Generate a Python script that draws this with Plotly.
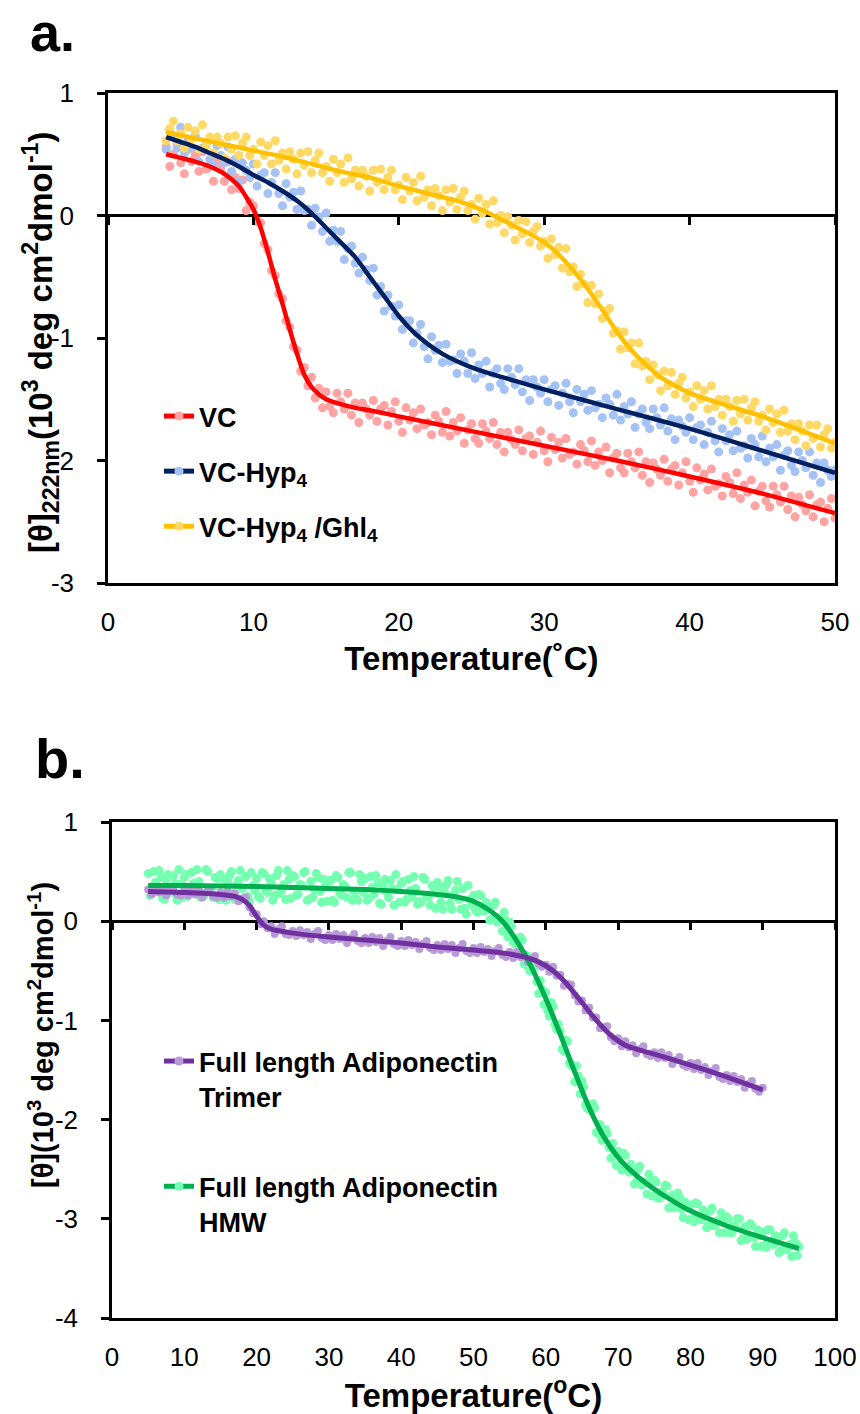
import plotly.graph_objects as go

# ---------------- DATA ----------------
# Panel a: temperature scan (deg C)
T_A = [4, 4.25, 4.5, 4.75, 5, 5.25, 5.5, 5.75, 6, 6.25, 6.5, 6.75, 7, 7.25, 7.5, 7.75,
       8, 8.25, 8.5, 8.75, 9, 9.25, 9.5, 9.75, 10, 10.25, 10.5, 10.75, 11, 11.25, 11.5, 11.75,
       12, 12.25, 12.5, 12.75, 13, 13.25, 13.5, 13.75, 14, 14.25, 14.5, 14.75, 15, 15.25, 15.5, 15.75,
       16, 16.25, 16.5, 16.75, 17, 17.25, 17.5, 17.75, 18, 18.25, 18.5, 18.75, 19, 19.25, 19.5, 19.75,
       20, 20.25, 20.5, 20.75, 21, 21.25, 21.5, 21.75, 22, 22.25, 22.5, 22.75, 23, 23.25, 23.5, 23.75,
       24, 24.25, 24.5, 24.75, 25, 25.25, 25.5, 25.75, 26, 26.25, 26.5, 26.75, 27, 27.25, 27.5, 27.75,
       28, 28.25, 28.5, 28.75, 29, 29.25, 29.5, 29.75, 30, 30.25, 30.5, 30.75, 31, 31.25, 31.5, 31.75,
       32, 32.25, 32.5, 32.75, 33, 33.25, 33.5, 33.75, 34, 34.25, 34.5, 34.75, 35, 35.25, 35.5, 35.75,
       36, 36.25, 36.5, 36.75, 37, 37.25, 37.5, 37.75, 38, 38.25, 38.5, 38.75, 39, 39.25, 39.5, 39.75,
       40, 40.25, 40.5, 40.75, 41, 41.25, 41.5, 41.75, 42, 42.25, 42.5, 42.75, 43, 43.25, 43.5, 43.75,
       44, 44.25, 44.5, 44.75, 45, 45.25, 45.5, 45.75, 46, 46.25, 46.5, 46.75, 47, 47.25, 47.5, 47.75,
       48, 48.25, 48.5, 48.75, 49, 49.25, 49.5, 49.75, 50]

VC = [.56, .40, .50, .59, .43, .34, .54, .44, .49, .36, .52, .38, .40, .28, .44, .38,
      .28, .44, .21, .31, .22, .29, .04, .11, .08, -.05, -.06, -.23, -.28, -.45, -.49, -.64,
      -.68, -.86, -.91, -1.07, -1.10, -1.27, -1.24, -1.39, -1.32, -1.49, -1.41, -1.57, -1.44, -1.56, -1.61, -1.45,
      -1.52, -1.58, -1.45, -1.63, -1.53, -1.69, -1.53, -1.58, -1.63, -1.51, -1.68, -1.58, -1.55, -1.71, -1.60, -1.52,
      -1.68, -1.77, -1.57, -1.67, -1.61, -1.74, -1.58, -1.71, -1.69, -1.79, -1.63, -1.68, -1.77, -1.60, -1.80, -1.69,
      -1.76, -1.65, -1.86, -1.75, -1.70, -1.82, -1.86, -1.70, -1.76, -1.82, -1.69, -1.87, -1.77, -1.93, -1.77, -1.83,
      -1.87, -1.75, -1.92, -1.82, -1.80, -1.95, -1.85, -1.76, -1.92, -2.01, -1.81, -1.91, -1.85, -1.98, -1.82, -1.95,
      -1.93, -2.03, -1.87, -1.92, -2.01, -1.84, -2.04, -1.93, -2.00, -1.89, -2.10, -1.98, -1.94, -2.06, -2.10, -1.94,
      -2.01, -2.06, -1.93, -2.12, -2.01, -2.18, -2.02, -2.07, -2.12, -1.99, -2.17, -2.07, -2.04, -2.20, -2.10, -2.01,
      -2.17, -2.26, -2.06, -2.16, -2.11, -2.24, -2.07, -2.21, -2.19, -2.29, -2.13, -2.18, -2.27, -2.10, -2.31, -2.20,
      -2.26, -2.16, -2.37, -2.25, -2.21, -2.33, -2.38, -2.21, -2.28, -2.34, -2.21, -2.40, -2.29, -2.46, -2.30, -2.36,
      -2.41, -2.28, -2.46, -2.36, -2.34, -2.50, -2.39, -2.31, -2.47]

VC_HYP4 = [.54, .70, .65, .55, .72, .51, .62, .55, .65, .44, .55, .58, .46, .41, .57, .49,
           .43, .56, .36, .46, .28, .43, .37, .31, .42, .24, .33, .35, .18, .27, .35, .18,
           .08, .26, .15, .19, .05, .20, .04, .05, -.08, .06, -.01, -.13, .02, -.21, -.12, -.21,
           -.13, -.36, -.27, -.25, -.39, -.47, -.34, -.44, -.53, -.43, -.65, -.58, -.78, -.65, -.74, -.82,
           -.73, -.93, -.86, -.86, -1.04, -.96, -.89, -1.07, -1.17, -.99, -1.10, -1.06, -1.20, -1.05, -1.19, -1.18,
           -1.29, -1.13, -1.19, -1.29, -1.12, -1.33, -1.22, -1.29, -1.19, -1.40, -1.29, -1.25, -1.37, -1.42, -1.25, -1.32,
           -1.38, -1.25, -1.44, -1.34, -1.51, -1.34, -1.40, -1.45, -1.34, -1.52, -1.42, -1.39, -1.55, -1.45, -1.37, -1.52,
           -1.61, -1.42, -1.52, -1.46, -1.59, -1.43, -1.57, -1.54, -1.65, -1.49, -1.54, -1.63, -1.46, -1.67, -1.56, -1.62,
           -1.52, -1.73, -1.62, -1.58, -1.69, -1.74, -1.58, -1.65, -1.71, -1.57, -1.76, -1.66, -1.83, -1.67, -1.72, -1.77,
           -1.65, -1.83, -1.73, -1.71, -1.87, -1.77, -1.68, -1.84, -1.93, -1.74, -1.84, -1.79, -1.92, -1.76, -1.90, -1.88,
           -1.98, -1.82, -1.87, -1.97, -1.80, -2.01, -1.90, -1.97, -1.87, -2.08, -1.96, -1.92, -2.04, -2.09, -1.93, -2.00,
           -2.06, -1.93, -2.12, -2.02, -2.18, -2.02, -2.08, -2.13, -2.08]

VC_HYP4_GHL4 = [.61, .71, .77, .61, .67, .55, .72, .62, .69, .54, .74, .57, .64, .51, .64, .59,
                .47, .64, .54, .65, .49, .59, .64, .49, .54, .42, .60, .49, .57, .42, .61, .45,
                .51, .38, .52, .46, .34, .51, .41, .52, .35, .45, .51, .35, .40, .28, .46, .35,
                .42, .27, .47, .30, .37, .24, .37, .32, .20, .37, .27, .38, .21, .31, .37, .21,
                .25, .13, .31, .20, .27, .12, .32, .15, .21, .08, .22, .16, .04, .21, .11, .22,
                .05, .15, .20, .04, .09, -.03, .14, .02, .09, -.07, .12, -.06, .00, -.14, -.01, -.08,
                -.20, -.04, -.15, -.05, -.22, -.13, -.09, -.25, -.21, -.35, -.19, -.32, -.26, -.43, -.27, -.46,
                -.42, -.58, -.48, -.56, -.71, -.57, -.72, -.64, -.84, -.78, -.76, -.96, -.94, -1.09, -.95, -1.08,
                -1.04, -1.21, -1.04, -1.23, -1.19, -1.34, -1.22, -1.30, -1.43, -1.27, -1.39, -1.28, -1.46, -1.37, -1.32, -1.49,
                -1.44, -1.56, -1.39, -1.50, -1.43, -1.58, -1.39, -1.56, -1.50, -1.63, -1.50, -1.56, -1.68, -1.51, -1.62, -1.50,
                -1.67, -1.57, -1.52, -1.68, -1.63, -1.75, -1.58, -1.69, -1.62, -1.77, -1.59, -1.76, -1.70, -1.83, -1.70, -1.76,
                -1.88, -1.71, -1.82, -1.71, -1.89, -1.79, -1.74, -1.90, -1.85]

# Fitted curves, panel a
VC_FIT_T = [4, 5, 6, 7, 8, 9, 10, 10.5, 11, 11.5, 12, 12.5, 13, 13.5, 14, 14.5, 15, 16, 17, 18, 20, 25, 30, 35, 40, 45, 50]
VC_FIT = [.50, .47, .44, .40, .34, .24, .05, -.10, -.30, -.52, -.72, -.93, -1.13, -1.30, -1.40, -1.46, -1.50,
          -1.54, -1.57, -1.59, -1.64, -1.76, -1.88, -2.00, -2.13, -2.27, -2.43]
HYP_FIT_T = [4, 5, 6, 7, 8, 9, 10, 11, 12, 13, 14, 15, 16, 17, 18, 19, 20, 21, 22, 23, 24, 25, 26, 28, 30, 35, 40, 45, 50]
HYP_FIT = [.64, .60, .56, .51, .46, .40, .33, .27, .20, .12, .02, -.10, -.22, -.34, -.50, -.66, -.82, -.95, -1.05,
           -1.13, -1.19, -1.24, -1.28, -1.35, -1.42, -1.58, -1.74, -1.92, -2.10]
GHL_FIT_T = [4, 6, 8, 10, 12, 14, 16, 18, 20, 22, 24, 25, 26, 27, 28, 29, 30, 31, 32, 33, 34, 35, 36, 37, 38, 39, 40, 42, 45, 48, 50]
GHL_FIT = [.68, .63, .58, .53, .48, .42, .36, .31, .24, .18, .12, .08, .03, -.03, -.09, -.15, -.22, -.32, -.45, -.60,
           -.77, -.95, -1.10, -1.22, -1.32, -1.39, -1.45, -1.53, -1.64, -1.77, -1.86]

# Panel b: temperature scan (deg C)
T_B = [5, 5.5, 6, 6.5, 7, 7.5, 8, 8.5, 9, 9.5, 10, 10.5, 11, 11.5, 12, 12.5, 13, 13.5, 14, 14.5,
       15, 15.5, 16, 16.5, 17, 17.5, 18, 18.5, 19, 19.5, 20, 20.5, 21, 21.5, 22, 22.5, 23, 23.5, 24, 24.5,
       25, 25.5, 26, 26.5, 27, 27.5, 28, 28.5, 29, 29.5, 30, 30.5, 31, 31.5, 32, 32.5, 33, 33.5, 34, 34.5,
       35, 35.5, 36, 36.5, 37, 37.5, 38, 38.5, 39, 39.5, 40, 40.5, 41, 41.5, 42, 42.5, 43, 43.5, 44, 44.5,
       45, 45.5, 46, 46.5, 47, 47.5, 48, 48.5, 49, 49.5, 50, 50.5, 51, 51.5, 52, 52.5, 53, 53.5, 54, 54.5,
       55, 55.5, 56, 56.5, 57, 57.5, 58, 58.5, 59, 59.5, 60, 60.5, 61, 61.5, 62, 62.5, 63, 63.5, 64, 64.5,
       65, 65.5, 66, 66.5, 67, 67.5, 68, 68.5, 69, 69.5, 70, 70.5, 71, 71.5, 72, 72.5, 73, 73.5, 74, 74.5,
       75, 75.5, 76, 76.5, 77, 77.5, 78, 78.5, 79, 79.5, 80, 80.5, 81, 81.5, 82, 82.5, 83, 83.5, 84, 84.5,
       85, 85.5, 86, 86.5, 87, 87.5, 88, 88.5, 89, 89.5, 90, 90.5, 91, 91.5, 92, 92.5, 93, 93.5, 94, 94.5, 95]

HMW = [.48, .28, .39, .51, .23, .42, .34, .46, .21, .37, .44, .25, .49, .31, .40, .27, .52, .33, .24, .43,
       .47, .27, .38, .50, .22, .41, .33, .45, .20, .36, .43, .23, .48, .29, .39, .26, .51, .32, .22, .42,
       .46, .26, .37, .49, .21, .40, .32, .44, .19, .35, .41, .21, .46, .28, .37, .24, .49, .30, .21, .40,
       .43, .23, .34, .46, .18, .37, .29, .41, .16, .32, .38, .19, .42, .24, .33, .20, .44, .25, .16, .34,
       .39, .19, .29, .41, .12, .31, .22, .33, .07, .22, .26, .09, .26, .10, .15, .02, .19, .01, -.10, .01,
       -.01, -.21, -.18, -.16, -.43, -.35, -.48, -.46, -.73, -.69, -.72, -.96, -.86, -1.09, -1.11, -1.31, -1.21, -1.45, -1.62, -1.56,
       -1.61, -1.85, -1.86, -1.84, -2.13, -2.05, -2.19, -2.14, -2.39, -2.32, -2.32, -2.51, -2.36, -2.53, -2.50, -2.63, -2.47, -2.64, -2.75, -2.63,
       -2.61, -2.79, -2.73, -2.66, -2.89, -2.76, -2.85, -2.78, -2.99, -2.89, -2.86, -3.03, -2.85, -3.01, -2.95, -3.07, -2.89, -3.05, -3.14, -3.01,
       -2.98, -3.14, -3.07, -3.00, -3.22, -3.08, -3.16, -3.07, -3.28, -3.17, -3.13, -3.29, -3.11, -3.26, -3.20, -3.32, -3.14, -3.29, -3.38, -3.24,
       -3.28]

# second interleaved HMW read-out (quarter-degree offsets)
T_B_HALF = [5.25, 5.75, 6.25, 6.75, 7.25, 7.75, 8.25, 8.75, 9.25, 9.75, 10.25, 10.75, 11.25, 11.75, 12.25, 12.75, 13.25, 13.75, 14.25, 14.75,
            15.25, 15.75, 16.25, 16.75, 17.25, 17.75, 18.25, 18.75, 19.25, 19.75, 20.25, 20.75, 21.25, 21.75, 22.25, 22.75, 23.25, 23.75, 24.25, 24.75,
            25.25, 25.75, 26.25, 26.75, 27.25, 27.75, 28.25, 28.75, 29.25, 29.75, 30.25, 30.75, 31.25, 31.75, 32.25, 32.75, 33.25, 33.75, 34.25, 34.75,
            35.25, 35.75, 36.25, 36.75, 37.25, 37.75, 38.25, 38.75, 39.25, 39.75, 40.25, 40.75, 41.25, 41.75, 42.25, 42.75, 43.25, 43.75, 44.25, 44.75,
            45.25, 45.75, 46.25, 46.75, 47.25, 47.75, 48.25, 48.75, 49.25, 49.75, 50.25, 50.75, 51.25, 51.75, 52.25, 52.75, 53.25, 53.75, 54.25, 54.75,
            55.25, 55.75, 56.25, 56.75, 57.25, 57.75, 58.25, 58.75, 59.25, 59.75, 60.25, 60.75, 61.25, 61.75, 62.25, 62.75, 63.25, 63.75, 64.25, 64.75,
            65.25, 65.75, 66.25, 66.75, 67.25, 67.75, 68.25, 68.75, 69.25, 69.75, 70.25, 70.75, 71.25, 71.75, 72.25, 72.75, 73.25, 73.75, 74.25, 74.75,
            75.25, 75.75, 76.25, 76.75, 77.25, 77.75, 78.25, 78.75, 79.25, 79.75, 80.25, 80.75, 81.25, 81.75, 82.25, 82.75, 83.25, 83.75, 84.25, 84.75,
            85.25, 85.75, 86.25, 86.75, 87.25, 87.75, 88.25, 88.75, 89.25, 89.75, 90.25, 90.75, 91.25, 91.75, 92.25, 92.75, 93.25, 93.75, 94.25, 94.75]
HMW_B = [.26, .50, .32, .44, .22, .47, .29, .38, .52, .24, .47, .29, .38, .52, .24, .26, .50, .32, .44, .22,
         .43, .21, .46, .28, .37, .51, .23, .25, .49, .31, .25, .49, .31, .43, .21, .46, .28, .37, .51, .23,
         .45, .27, .36, .50, .22, .24, .48, .30, .42, .20, .41, .19, .44, .26, .35, .49, .21, .23, .47, .29,
         .21, .45, .27, .39, .17, .42, .24, .33, .47, .19, .40, .22, .31, .45, .17, .19, .42, .24, .36, .13,
         .35, .12, .37, .18, .27, .40, .12, .13, .36, .17, .12, .27, .12, .19, .01, .16, -.01, .03, .09, -.16,
         -.05, -.23, -.22, -.19, -.44, -.50, -.40, -.61, -.60, -.84, -.90, -.82, -1.04, -1.04, -1.29, -1.20, -1.43, -1.46, -1.46, -1.74,
         -1.67, -1.89, -1.91, -1.88, -2.14, -2.21, -2.10, -2.28, -2.24, -2.46, -2.47, -2.34, -2.50, -2.45, -2.65, -2.50, -2.66, -2.63, -2.55, -2.77,
         -2.63, -2.79, -2.75, -2.67, -2.88, -2.89, -2.74, -2.90, -2.83, -3.01, -3.00, -2.84, -2.99, -2.91, -3.09, -2.92, -3.07, -3.02, -2.94, -3.14,
         -3.00, -3.14, -3.09, -3.00, -3.20, -3.21, -3.05, -3.19, -3.11, -3.28, -3.27, -3.11, -3.25, -3.17, -3.34, -3.17, -3.31, -3.26, -3.17, -3.37]

TRIMER = [.32, .27, .34, .29, .33, .26, .31, .34, .27, .26, .31, .26, .33, .27, .31, .24, .29, .33, .25, .24,
          .29, .24, .30, .25, .28, .20, .23, .24, .14, .08, .07, -.03, .00, -.07, -.05, -.13, -.08, -.05, -.13, -.14,
          -.10, -.15, -.09, -.14, -.11, -.18, -.13, -.10, -.17, -.19, -.14, -.19, -.13, -.18, -.14, -.22, -.17, -.13, -.20, -.22,
          -.17, -.22, -.16, -.21, -.17, -.25, -.20, -.16, -.23, -.25, -.20, -.25, -.19, -.24, -.21, -.28, -.23, -.20, -.27, -.29,
          -.24, -.29, -.23, -.28, -.24, -.32, -.27, -.23, -.30, -.32, -.27, -.32, -.26, -.31, -.28, -.35, -.30, -.27, -.34, -.36,
          -.31, -.37, -.31, -.36, -.33, -.41, -.38, -.35, -.43, -.46, -.44, -.51, -.46, -.55, -.54, -.65, -.63, -.64, -.75, -.81,
          -.80, -.90, -.87, -.97, -.97, -1.08, -1.07, -1.06, -1.17, -1.21, -1.18, -1.26, -1.21, -1.27, -1.25, -1.33, -1.29, -1.26, -1.34, -1.36,
          -1.32, -1.38, -1.32, -1.38, -1.35, -1.44, -1.40, -1.37, -1.45, -1.47, -1.43, -1.49, -1.43, -1.50, -1.47, -1.55, -1.51, -1.48, -1.57, -1.59,
          -1.55, -1.61, -1.56, -1.62, -1.59, -1.68, -1.64, -1.61, -1.69, -1.72, -1.68]
T_TRIMER = T_B[:len(TRIMER)]

HMW_FIT_T = [5, 10, 15, 20, 25, 30, 35, 40, 45, 48, 50, 52, 54, 56, 58, 60, 62, 64, 66, 68, 70, 72, 74, 76, 80, 85, 90, 95]
HMW_FIT = [.36, .36, .355, .35, .34, .33, .32, .30, .27, .24, .20, .12, .00, -.20, -.46, -.78, -1.14, -1.52, -1.88,
           -2.17, -2.38, -2.53, -2.65, -2.75, -2.92, -3.07, -3.19, -3.30]
TRIMER_FIT_T = [5, 10, 15, 17, 18, 19, 20, 21, 22, 25, 30, 35, 40, 45, 50, 55, 57, 59, 61, 63, 65, 67, 69, 71, 73, 75, 80, 85, 90]
TRIMER_FIT = [.30, .29, .27, .25, .22, .16, .05, -.04, -.08, -.12, -.16, -.19, -.22, -.26, -.29, -.33, -.36, -.41, -.50,
              -.64, -.82, -1.00, -1.15, -1.25, -1.30, -1.34, -1.45, -1.57, -1.70]

A_XTICKS = [0, 10, 20, 30, 40, 50]
A_YTICKS = [-3, -2, -1, 0, 1]
A_YTICKTEXT = ["-3", "-2", "-1", "0", "1"]
B_XTICKS = [0, 10, 20, 30, 40, 50, 60, 70, 80, 90, 100]
B_YTICKS = [-4, -3, -2, -1, 0, 1]
B_YTICKTEXT = ["-4", "-3", "-2", "-1", "0", "1"]

# ---------------- LAYOUT GEOMETRY ----------------
W, H = 860, 1414
A_BOX = dict(l=108, r=835, t=93, b=583)
B_BOX = dict(l=112, r=835, t=822, b=1318)
A_YR = [-3, 1]
B_YR = [-4, 1]


def xdom(box):
    return [box['l'] / W, box['r'] / W]


def ydom(box):
    return [1 - box['b'] / H, 1 - box['t'] / H]


def zero_pos(box, yr):
    d = ydom(box)
    return d[0] + (0 - yr[0]) / (yr[1] - yr[0]) * (d[1] - d[0])


TICK_FONT = dict(family="Liberation Sans, Arial, sans-serif", size=26, color="black")
BOLD = "Liberation Sans, Arial, sans-serif"

fig = go.Figure()

# Panel a scatter data
scatter_a = [(VC, "#FFA3A3"), (VC_HYP4, "#A4C2F4"), (VC_HYP4_GHL4, "#FFD966")]
for ys, col in scatter_a:
    fig.add_trace(go.Scatter(x=T_A, y=ys, mode="markers", marker=dict(color=col, size=9),
                             showlegend=False, hoverinfo="skip", xaxis="x", yaxis="y"))

# Panel a fit lines
fits_a = [(VC_FIT_T, VC_FIT, "#FF0000"), (HYP_FIT_T, HYP_FIT, "#002060"), (GHL_FIT_T, GHL_FIT, "#FFC000")]
for xs, ys, col in fits_a:
    fig.add_trace(go.Scatter(x=xs, y=ys, mode="lines",
                             line=dict(color=col, width=4.5, shape="spline", smoothing=0.6),
                             showlegend=False, hoverinfo="skip", xaxis="x3", yaxis="y"))

# Panel a legend entries
legend_a = [("VC", "#FF0000", "#FFA3A3"),
            ("VC-Hyp<sub>4</sub>", "#002060", "#A4C2F4"),
            ("VC-Hyp<sub>4</sub> /Ghl<sub>4</sub>", "#FFC000", "#FFD966")]
for i, (name, dark, light) in enumerate(legend_a):
    fig.add_trace(go.Scatter(x=[None], y=[None], mode="lines+markers", name=name,
                             line=dict(color=dark, width=5), marker=dict(color=light, size=9),
                             legend="legend", legendgroup="a%d" % i, xaxis="x", yaxis="y"))

# Panel b scatter data
for xs, ys in [(T_B, HMW), (T_B_HALF, HMW_B)]:
    fig.add_trace(go.Scatter(x=xs, y=ys, mode="markers", marker=dict(color="#75FFB0", size=9),
                             showlegend=False, hoverinfo="skip", xaxis="x2", yaxis="y2"))
fig.add_trace(go.Scatter(x=T_TRIMER, y=TRIMER, mode="markers", marker=dict(color="#B89AD8", size=8),
                         showlegend=False, hoverinfo="skip", xaxis="x2", yaxis="y2"))
# Panel b fit lines
fig.add_trace(go.Scatter(x=HMW_FIT_T, y=HMW_FIT, mode="lines",
                         line=dict(color="#00B050", width=5, shape="spline", smoothing=0.6),
                         showlegend=False, hoverinfo="skip", xaxis="x4", yaxis="y2"))
fig.add_trace(go.Scatter(x=TRIMER_FIT_T, y=TRIMER_FIT, mode="lines",
                         line=dict(color="#7030A0", width=5, shape="spline", smoothing=0.6),
                         showlegend=False, hoverinfo="skip", xaxis="x4", yaxis="y2"))
legend_b = [("Full length Adiponectin<br>Trimer", "#7030A0", "#B89AD8"),
            ("Full length Adiponectin<br>HMW", "#00B050", "#75FFB0")]
for i, (name, dark, light) in enumerate(legend_b):
    fig.add_trace(go.Scatter(x=[None], y=[None], mode="lines+markers", name=name,
                             line=dict(color=dark, width=5), marker=dict(color=light, size=9),
                             legend="legend2", legendgroup="b%d" % i, xaxis="x2", yaxis="y2"))

frame = dict(showline=True, linecolor="black", linewidth=2.5, mirror=True, showgrid=False, automargin=False)
TITLE_FONT = dict(family=BOLD, size=33, color="black", weight="bold")
tick_only = dict(ticks="outside", ticklen=8, tickwidth=2.5, tickcolor="black", showticklabels=False,
                 showline=False, showgrid=False, zeroline=False, automargin=False)

fig.update_layout(
    width=W, height=H, margin=dict(l=0, r=0, t=0, b=0, autoexpand=False),
    paper_bgcolor="white", plot_bgcolor="white",
    xaxis=dict(domain=xdom(A_BOX), anchor="y", range=[0, 50], tickvals=A_XTICKS, ticks="",
               tickfont=TICK_FONT, ticklabelstandoff=14, zeroline=False,
               title=dict(text="Temperature(˚C)", font=TITLE_FONT, standoff=11), **frame),
    yaxis=dict(domain=ydom(A_BOX), anchor="x", range=A_YR, tickvals=A_YTICKS, ticktext=A_YTICKTEXT,
               ticks="outside", ticklen=8, tickwidth=2.5, tickcolor="black", tickfont=TICK_FONT,
               ticklabelstandoff=18, zeroline=True, zerolinecolor="black", zerolinewidth=2.5, **frame),
    xaxis3=dict(overlaying="x", anchor="free", position=zero_pos(A_BOX, A_YR), range=[0, 50],
                tickvals=A_XTICKS, **tick_only),
    xaxis2=dict(domain=xdom(B_BOX), anchor="y2", range=[0, 100], tickvals=B_XTICKS, ticks="",
                tickfont=TICK_FONT, ticklabelstandoff=14, zeroline=False,
                title=dict(text="Temperature(<sup>o</sup>C)", font=TITLE_FONT, standoff=9), **frame),
    yaxis2=dict(domain=ydom(B_BOX), anchor="x2", range=B_YR, tickvals=B_YTICKS, ticktext=B_YTICKTEXT,
                ticks="outside", ticklen=8, tickwidth=2.5, tickcolor="black", tickfont=TICK_FONT,
                ticklabelstandoff=18, zeroline=True, zerolinecolor="black", zerolinewidth=2.5, **frame),
    xaxis4=dict(overlaying="x2", anchor="free", position=zero_pos(B_BOX, B_YR), range=[0, 100],
                tickvals=B_XTICKS, **tick_only),
    legend=dict(x=159 / W, xanchor="left", y=1 - 392 / H, yanchor="top",
                font=dict(family=BOLD, size=27, color="black", weight="bold"),
                bgcolor="rgba(0,0,0,0)", tracegroupgap=17, traceorder="grouped"),
    legend2=dict(x=159 / W, xanchor="left", y=1 - 1037 / H, yanchor="top", valign="top",
                 font=dict(family=BOLD, size=27, color="black", weight="bold"),
                 bgcolor="rgba(0,0,0,0)", tracegroupgap=52, traceorder="grouped"),
    annotations=[
        dict(text="a.", x=28 / W, y=1, xref="paper", yref="paper", xanchor="left", yanchor="top",
             showarrow=False, font=dict(family=BOLD, size=54, color="black", weight="bold")),
        dict(text="b.", x=33 / W, y=1 - 758 / H, xref="paper", yref="paper", xanchor="left", yanchor="middle",
             showarrow=False, font=dict(family=BOLD, size=56, color="black", weight="bold")),
        dict(text="[θ]<sub>222nm</sub>(10<sup>3</sup> deg cm<sup>2</sup>dmol<sup>-1</sup>)",
             x=40 / W, y=1 - 343 / H, xref="paper", yref="paper", xanchor="center", yanchor="middle",
             textangle=-90, showarrow=False, font=dict(family=BOLD, size=33, color="black", weight="bold")),
        dict(text="[θ](10<sup>3</sup> deg cm<sup>2</sup>dmol<sup>-1</sup>)",
             x=41 / W, y=1 - 1035 / H, xref="paper", yref="paper", xanchor="center", yanchor="middle",
             textangle=-90, showarrow=False, font=dict(family=BOLD, size=29, color="black", weight="bold")),
    ],
)

fig.write_html("out.html", config={"displayModeBar": False},
               post_script="document.body.style.margin='0';document.body.style.overflow='hidden';")
